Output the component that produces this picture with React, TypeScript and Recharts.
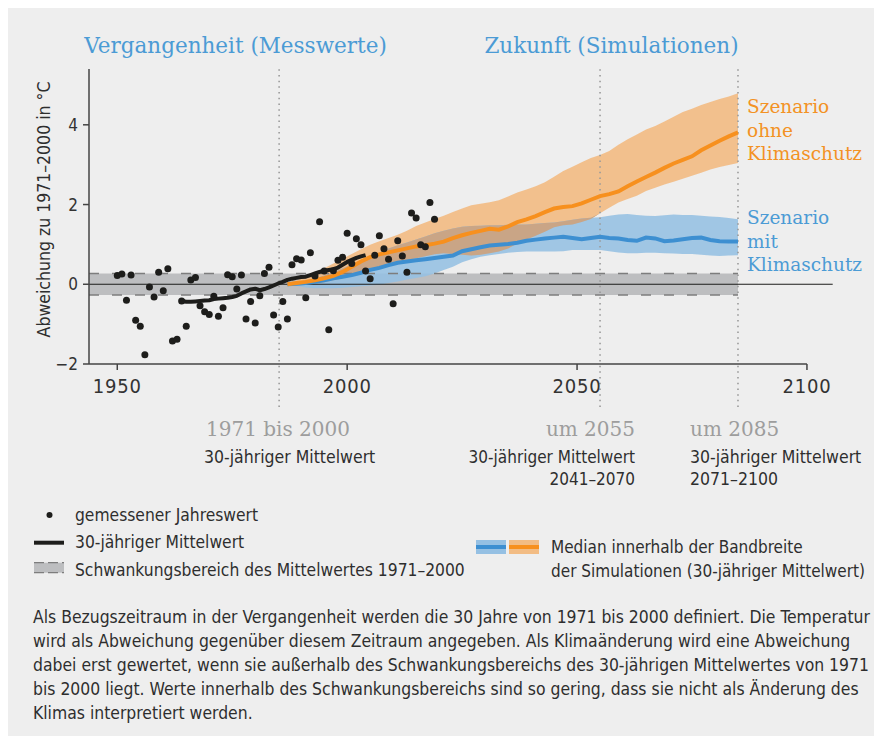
import React from "react";
import { ComposedChart, XAxis, YAxis, Area, Line, Scatter, ReferenceLine, ReferenceArea } from "recharts";

// measured yearly values 1950-2019
const observedFrom = 1950;
const observed = [
  0.22, 0.26, -0.4, 0.23, -0.9, -1.05, -1.77, -0.07, -0.32, 0.3,
  -0.16, 0.39, -1.42, -1.38, -0.42, -1.05, 0.11, 0.17, -0.54, -0.69,
  -0.76, -0.3, -0.8, -0.59, 0.24, 0.19, -0.12, 0.23, -0.87, -0.43,
  -0.97, -0.29, 0.27, 0.43, -0.77, -1.07, -0.43, -0.87, 0.49, 0.64,
  0.61, -0.34, 0.79, 0.21, 1.57, 0.33, -1.14, 0.34, 0.6, 0.68,
  1.28, 0.52, 1.14, 0.99, 0.33, 0.14, 0.73, 1.22, 0.89, 0.63,
  -0.49, 1.09, 0.71, 0.3, 1.79, 1.66, 0.99, 0.94, 2.05, 1.63,
];

// 30-year running mean 1964-2004
const meanFrom = 1964;
const mean30 = [
  -0.42, -0.44, -0.44, -0.43, -0.42, -0.41, -0.4, -0.37, -0.36, -0.35,
  -0.34, -0.32, -0.29, -0.23, -0.18, -0.13, -0.11, -0.15, -0.12, -0.08,
  -0.03, 0.02, 0.06, 0.11, 0.14, 0.16, 0.18, 0.19, 0.23, 0.27,
  0.31, 0.34, 0.36, 0.38, 0.42, 0.49, 0.56, 0.61, 0.66, 0.7,
  0.73,
];

// simulations, every second year 1987-2085
const simYears = Array.from({ length: 50 }, (_, i) => 1987 + i * 2);
const orangeMid = [
  0.0, 0.03, 0.06, 0.1, 0.15, 0.21, 0.31, 0.44, 0.57, 0.68,
  0.75, 0.8, 0.85, 0.9, 0.95, 0.98, 1.02, 1.07, 1.16, 1.23,
  1.29, 1.34, 1.39, 1.37, 1.45, 1.56, 1.63, 1.71, 1.81, 1.9,
  1.94, 1.96, 2.03, 2.12, 2.21, 2.26, 2.33, 2.46, 2.58, 2.69,
  2.8, 2.92, 3.03, 3.12, 3.21, 3.36, 3.48, 3.6, 3.71, 3.81,
];
const orangeHigh = [
  0.02, 0.1, 0.18, 0.29, 0.4, 0.52, 0.64, 0.76, 0.88, 0.99,
  1.08, 1.16, 1.24, 1.34, 1.46, 1.55, 1.64, 1.72, 1.81, 1.9,
  1.98, 2.02, 2.06, 2.11, 2.2, 2.3, 2.38, 2.46, 2.56, 2.7,
  2.84, 2.95, 3.06, 3.17, 3.24, 3.34, 3.5, 3.64, 3.76, 3.88,
  3.97, 4.08, 4.2, 4.32, 4.4, 4.5, 4.57, 4.65, 4.71, 4.79,
];
const orangeLow = [
  0.0, 0.0, 0.0, 0.02, 0.05, 0.1, 0.15, 0.22, 0.3, 0.38,
  0.44, 0.5, 0.55, 0.6, 0.65, 0.7, 0.75, 0.78, 0.76, 0.74,
  0.72, 0.74, 0.78, 0.82, 0.9, 1.02, 1.12, 1.22, 1.32, 1.43,
  1.48, 1.5, 1.56, 1.64, 1.78, 1.92, 2.05, 2.14, 2.22, 2.34,
  2.42, 2.5, 2.57, 2.65, 2.72, 2.8, 2.88, 2.94, 2.99, 3.04,
];
const blueMid = [
  0, 0.01, 0.03, 0.06, 0.1, 0.15, 0.19, 0.23, 0.29, 0.36,
  0.41, 0.48, 0.54, 0.57, 0.6, 0.63, 0.66, 0.69, 0.72, 0.83,
  0.88, 0.93, 0.97, 0.99, 1.01, 1.04, 1.09, 1.12, 1.15, 1.17,
  1.19, 1.16, 1.13, 1.16, 1.19, 1.16, 1.15, 1.11, 1.09, 1.17,
  1.15, 1.08, 1.1, 1.13, 1.16, 1.17, 1.11, 1.08, 1.07, 1.07,
];
const blueHigh = [
  0, 0.05, 0.1, 0.15, 0.22, 0.3, 0.4, 0.5, 0.6, 0.7,
  0.8, 0.9, 0.98, 1.05, 1.12, 1.2, 1.28, 1.34, 1.4, 1.44,
  1.46, 1.47, 1.48, 1.48, 1.49, 1.5, 1.5, 1.52, 1.54, 1.55,
  1.58, 1.62, 1.65, 1.67, 1.68, 1.72, 1.75, 1.76, 1.74, 1.72,
  1.71, 1.73, 1.75, 1.74, 1.74, 1.72, 1.7, 1.69, 1.66, 1.63,
];
const blueLow = [
  0, -0.04, -0.08, -0.1, -0.1, -0.1, -0.09, -0.07, -0.05, -0.03,
  -0.01, 0.03, 0.07, 0.12, 0.16, 0.2, 0.27, 0.36, 0.44, 0.55,
  0.63, 0.69, 0.73, 0.76, 0.79, 0.81, 0.82, 0.82, 0.82, 0.82,
  0.83, 0.86, 0.86, 0.86, 0.86, 0.83, 0.8, 0.78, 0.78, 0.79,
  0.79, 0.78, 0.77, 0.76, 0.76, 0.74, 0.72, 0.71, 0.72, 0.73,
];

const xTicks = [1950, 2000, 2050, 2100];
const yTicks = [-2, 0, 2, 4];
const markerYears = [1985.2, 2055, 2085];
const bandLimit = 0.27;
const bandEnd = 2085;
const xMin = 1943.85;
const xMax = 2105.6;
const yMin = -2;
const yMax = 5.4;

const paragraph = [
  "Als Bezugszeitraum in der Vergangenheit werden die 30 Jahre von 1971 bis 2000 definiert. Die Temperatur",
  "wird als Abweichung gegenüber diesem Zeitraum angegeben. Als Klimaänderung wird eine Abweichung",
  "dabei erst gewertet, wenn sie außerhalb des Schwankungsbereichs des 30-jährigen Mittelwertes von 1971",
  "bis 2000 liegt. Werte innerhalb des Schwankungsbereichs sind so gering, dass sie nicht als Änderung des",
  "Klimas interpretiert werden.",
];

const SANS = "'DejaVu Sans Condensed', 'Liberation Sans Narrow', 'Liberation Sans', sans-serif";
const SERIF = "'DejaVu Serif', Georgia, serif";
const BLUE = "#4b9bd5";
const ORANGE = "#f39224";
const INK = "#2e2e2e";

const observedData = observed.map((value, i) => ({ year: observedFrom + i, value }));
const meanData = mean30.map((value, i) => ({ year: meanFrom + i, value }));
const simData = simYears.map((year, i) => {
  const lo = Math.max(orangeLow[i], blueLow[i]);
  const hi = Math.min(orangeHigh[i], blueHigh[i]);
  return {
    year,
    orange: [orangeLow[i], orangeHigh[i]],
    blue: [blueLow[i], blueHigh[i]],
    both: [lo, Math.max(lo, hi)],
    orangeMid: orangeMid[i],
    blueMid: blueMid[i],
  };
});

const sans = { fontFamily: SANS, fontSize: 17, fill: INK };
const serifGray = { fontFamily: SERIF, fontSize: 20, fill: "#9d9d9d" };

const Dot = (p: any) => <circle cx={p.cx} cy={p.cy} r={3.5} fill="#1d1d1b" />;

export default function App() {
  return (
    <div style={{ position: "relative", width: 875, height: 728, marginLeft: -1, background: "#eeeeee" }}>
      <div style={{ position: "absolute", left: 0, top: 0 }}>
        <ComposedChart width={875} height={420} margin={{ top: 61, right: 49.3, left: 0, bottom: 34 }}>
          <XAxis
            dataKey="year"
            type="number"
            domain={[xMin, xMax]}
            allowDataOverflow
            ticks={xTicks}
            axisLine={false}
            tickLine={{ stroke: "#444", strokeWidth: 1.5 }}
            tickSize={6}
            tickMargin={9}
            height={30}
            tick={{ fontFamily: SANS, fontSize: 20, letterSpacing: 0.8, fill: "#333" }}
          />
          <YAxis
            type="number"
            domain={[yMin, yMax]}
            allowDataOverflow
            ticks={yTicks}
            width={82}
            axisLine={{ stroke: "#444", strokeWidth: 1.5 }}
            tickLine={{ stroke: "#444", strokeWidth: 1.5 }}
            tickSize={6}
            tickMargin={5}
            tickFormatter={(v: number) => String(v).replace("-", "\u2212")}
            tick={{ fontFamily: SANS, fontSize: 17, fill: "#333" }}
          />
          <ReferenceArea x1={xMin} x2={bandEnd} y1={-bandLimit} y2={bandLimit} fill="#bdbec0" fillOpacity={1} stroke="none" ifOverflow="visible" />
          <Area data={simData} dataKey="orange" type="linear" fill="#f2bc84" fillOpacity={0.92} stroke="none" isAnimationActive={false} />
          <Area data={simData} dataKey="blue" type="linear" fill="#95c0e3" fillOpacity={0.88} stroke="none" isAnimationActive={false} />
          <Area data={simData} dataKey="both" type="linear" fill="#c9a586" fillOpacity={1} stroke="none" isAnimationActive={false} />
          {[-bandLimit, bandLimit].map((y) => (
            <ReferenceLine key={y} segment={[{ x: xMin, y }, { x: bandEnd, y }]} stroke="#7d7d7d" strokeWidth={1.5} strokeDasharray="10 13" ifOverflow="visible" />
          ))}
          <ReferenceLine y={0} stroke="#1d1d1b" strokeWidth={1.2} ifOverflow="visible" />
          <ReferenceLine segment={[{ x: xMin, y: yMin }, { x: 2100, y: yMin }]} stroke="#444" strokeWidth={1.5} ifOverflow="visible" />
          {markerYears.map((x) => (
            <ReferenceLine key={x} segment={[{ x, y: -3.08 }, { x, y: yMax }]} stroke="#9a9a9a" strokeWidth={1.6} strokeDasharray="1.5 4.2" ifOverflow="visible" />
          ))}
          <Line data={simData} dataKey="blueMid" type="linear" stroke="#3d8fd1" strokeWidth={4} dot={false} isAnimationActive={false} />
          <Line data={simData} dataKey="orangeMid" type="linear" stroke="#f7901e" strokeWidth={4} dot={false} isAnimationActive={false} />
          <Line data={meanData} dataKey="value" type="linear" stroke="#1d1d1b" strokeWidth={4} strokeLinejoin="round" dot={false} isAnimationActive={false} />
          <Scatter data={observedData} dataKey="value" shape={Dot} isAnimationActive={false} />
        </ComposedChart>
      </div>
      <svg width={875} height={728} style={{ position: "absolute", left: 0, top: 0, pointerEvents: "none" }}>
        <text x={228.5} y={45} textAnchor="middle" fontFamily={SERIF} fontSize={21.5} fill={BLUE}>Vergangenheit (Messwerte)</text>
        <text x={604.5} y={45} textAnchor="middle" fontFamily={SERIF} fontSize={21.5} fill={BLUE}>Zukunft (Simulationen)</text>

        <g fontFamily={SERIF} fontSize={18.5} fill={ORANGE}>
          <text x={740} y={105}>Szenario</text>
          <text x={740} y={129}>ohne</text>
          <text x={740} y={152}>Klimaschutz</text>
        </g>
        <g fontFamily={SERIF} fontSize={18.5} fill={BLUE}>
          <text x={740} y={216}>Szenario</text>
          <text x={740} y={239.5}>mit</text>
          <text x={740} y={263}>Klimaschutz</text>
        </g>

        <text x={43} y={201.5} transform="rotate(-90 43 201.5)" textAnchor="middle" {...sans} fontSize={17.5}>Abweichung zu 1971–2000 in °C</text>

        <text x={199} y={428} {...serifGray}>1971 bis 2000</text>
        <text x={197} y={455} {...sans} fontSize={17.5}>30-jähriger Mittelwert</text>
        <text x={628} y={428} textAnchor="end" {...serifGray}>um 2055</text>
        <text x={628} y={455} textAnchor="end" {...sans} fontSize={17}>30-jähriger Mittelwert</text>
        <text x={628} y={477} textAnchor="end" {...sans} fontSize={17}>2041–2070</text>
        <text x={683} y={428} {...serifGray}>um 2085</text>
        <text x={683} y={455} {...sans} fontSize={17.5}>30-jähriger Mittelwert</text>
        <text x={683} y={477} {...sans} fontSize={17.5}>2071–2100</text>

        <circle cx={42.5} cy={507} r={3} fill="#1d1d1b" />
        <text x={68} y={513} {...sans} fontSize={17.3}>gemessener Jahreswert</text>
        <line x1={27} x2={57} y1={534.7} y2={534.7} stroke="#1d1d1b" strokeWidth={4} />
        <text x={68} y={540} {...sans} fontSize={17.3}>30-jähriger Mittelwert</text>
        <rect x={27} y={554.7} width={30} height={10} fill="#bdbec0" />
        <line x1={27} x2={57} y1={554.7} y2={554.7} stroke="#7d7d7d" strokeWidth={1.2} strokeDasharray="10 4" />
        <line x1={27} x2={57} y1={564.7} y2={564.7} stroke="#7d7d7d" strokeWidth={1.2} strokeDasharray="10 4" />
        <text x={68} y={568} {...sans} fontSize={17.3}>Schwankungsbereich des Mittelwertes 1971–2000</text>

        <rect x={469} y={532} width={30} height={14} fill="#95c0e3" />
        <line x1={469} x2={499} y1={539} y2={539} stroke="#3d8fd1" strokeWidth={4} />
        <rect x={502} y={532} width={30} height={14} fill="#f2bc84" />
        <line x1={502} x2={532} y1={539} y2={539} stroke="#f7901e" strokeWidth={4} />
        <text x={544} y={545} {...sans}>Median innerhalb der Bandbreite</text>
        <text x={544} y={569} {...sans}>der Simulationen (30-jähriger Mittelwert)</text>

        {paragraph.map((line, i) => (
          <text key={i} x={26} y={615 + i * 24} {...sans} fontSize={17.4}>{line}</text>
        ))}
      </svg>
    </div>
  );
}
